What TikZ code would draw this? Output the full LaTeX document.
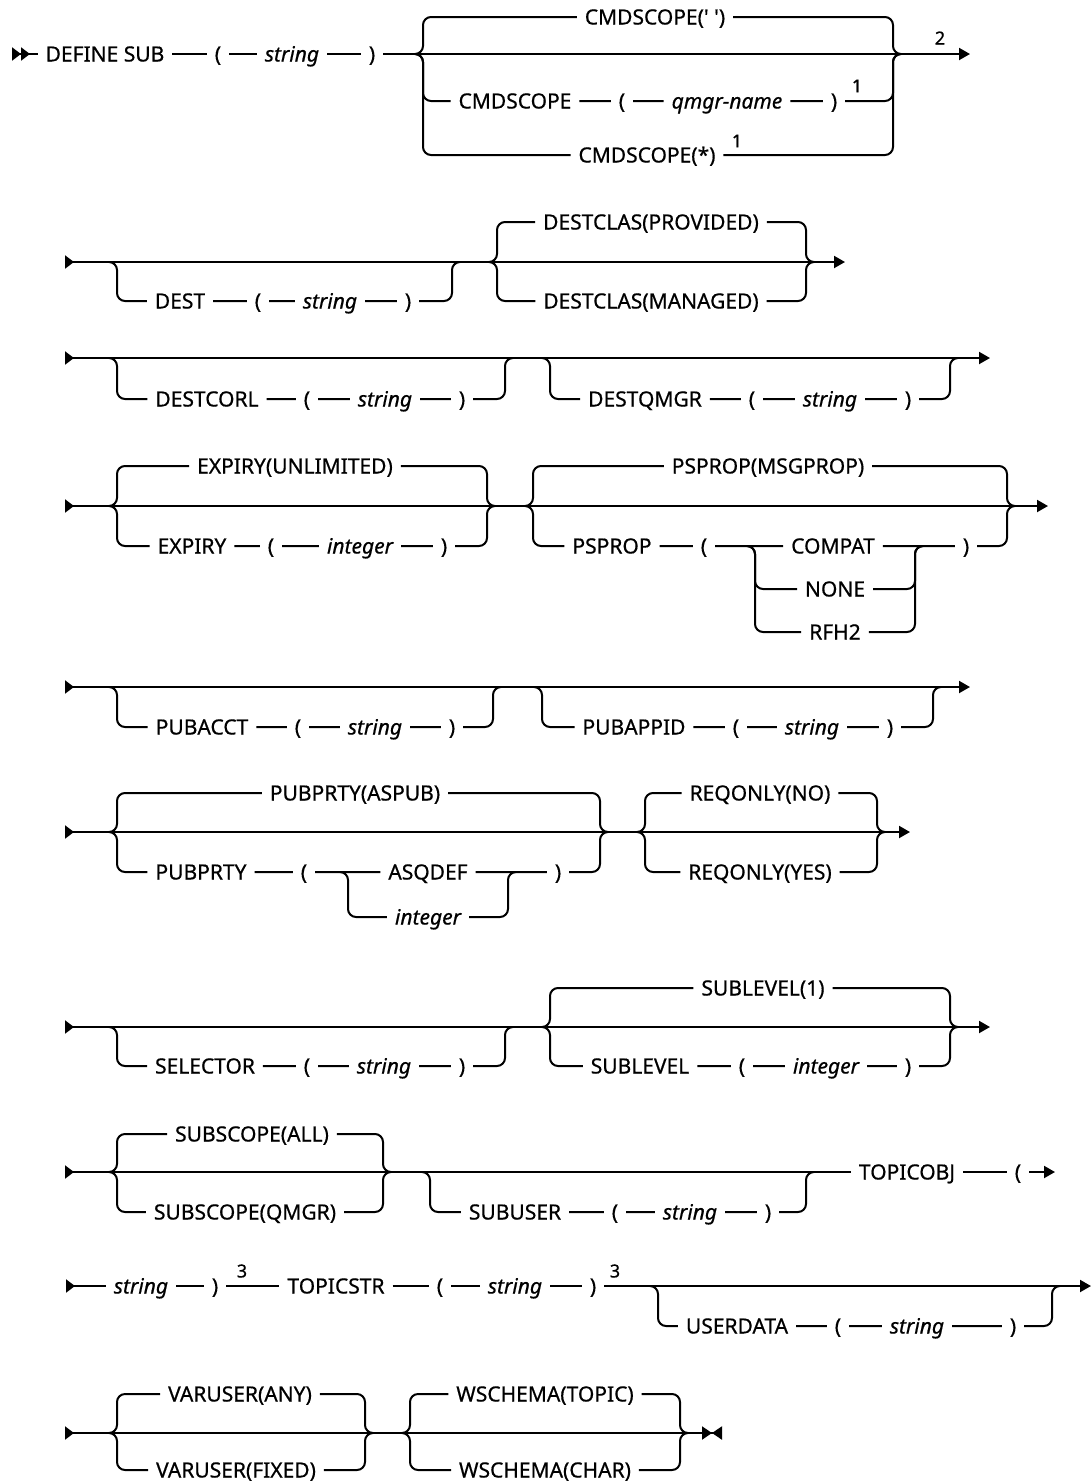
\documentclass[tikz,border=0pt]{standalone}
\usepackage{fontspec}
\setmainfont{Noto Sans}[UprightFeatures={FakeBold=0.6}, ItalicFeatures={FakeBold=0.6}]
\usetikzlibrary{arrows.meta}
\newcommand{\railfont}{\fontsize{21}{25}\selectfont}

\begin{document}
\begin{tikzpicture}[x=1pt, y=-1pt, line width=2pt, font=\railfont,
  tok/.style={inner sep=0pt, outer sep=8pt, text height=15pt, text depth=0pt, font=\railfont},
  var/.style={tok, font=\railfont\itshape},
  note/.style={inner sep=0pt, font=\fontsize{18}{20}\selectfont},
  altpath/.style={rounded corners=8pt},
  rowin/.style={arrows={Triangle[reversed,length=9pt,width=13pt]}-},
  rowout/.style={arrows=-{Triangle[length=11pt,width=12pt]}},
  rowline/.style={arrows={Triangle[reversed,length=9pt,width=13pt]}-{Triangle[length=11pt,width=12pt]}}]
\useasboundingbox (0,0) rectangle (1091,1484);
% ---- row 1: DEFINE SUB and CMDSCOPE
\coordinate (r1s) at (12,54);
\coordinate (r1e) at (970,54);
\node[tok] (defsub) at (105,54) {DEFINE SUB};
\node[tok] (lp1) at (218,54) {(};
\node[var] (str1) at (292,54) {string};
\node[tok] (rp1) at (372,54) {)};
\coordinate (cs) at (423,54);
\coordinate (ce) at (893,54);
\node[tok] (cmdq) at (655,17) {CMDSCOPE(\textquotesingle\ \textquotesingle)};
\node[tok] (cmdn) at (515,101) {CMDSCOPE};
\node[tok] (lp1b) at (622,101) {(};
\node[var] (qmgr) at (727,101) {qmgr-name};
\node[tok] (rp1b) at (834,101) {)};
\node[note] (n1a) at (857,86) {1};
\node[tok] (cmdall) at (647,155) {CMDSCOPE(*)};
\node[note] (n1b) at (737,141) {1};
\node[note] (n2) at (940,38) {2};
\draw[arrows={Triangle[reversed,length=9pt,width=13pt]Triangle[reversed,length=9pt,width=13pt]}-] (r1s) -- (defsub);
\draw (defsub) -- (lp1) -- (str1) -- (rp1);
\draw[rowout] (rp1) -- (r1e);
\draw[altpath] ([xshift=-8pt]cs) -| (cs |- cmdq) -- (cmdq) -- (ce |- cmdq) |- ([xshift=8pt]ce);
\draw[altpath] ([xshift=-8pt]cs) -| (cs |- cmdn) -- (cmdn) -- (lp1b) -- (qmgr) -- (rp1b) -- (ce |- rp1b) |- ([xshift=8pt]ce);
\draw[altpath] ([xshift=-8pt]cs) -| (cs |- cmdall) -- (cmdall) -- (ce |- cmdall) |- ([xshift=8pt]ce);
% ---- row 2: DEST, DESTCLAS
\coordinate (r2s) at (65,262);
\coordinate (r2e) at (845,262);
\draw[rowline] (r2s) -- (r2e);
\coordinate (ds) at (117,262);
\coordinate (de) at (452,262);
\node[tok] (dest) at (180,301) {DEST};
\node[tok] (lp2) at (258,301) {(};
\node[var] (str2) at (330,301) {string};
\node[tok] (rp2) at (408,301) {)};
\draw[altpath] ([xshift=-8pt]ds) -| (ds |- dest) -- (dest) -- (lp2) -- (str2) -- (rp2) -- (de |- rp2) |- ([xshift=8pt]de);
\coordinate (cls) at (497,262);
\coordinate (cle) at (806,262);
\node[tok] (dcprov) at (651,222) {DESTCLAS(PROVIDED)};
\node[tok] (dcman) at (651,301) {DESTCLAS(MANAGED)};
\draw[altpath] ([xshift=-8pt]cls) -| (cls |- dcprov) -- (dcprov) -- (cle |- dcprov) |- ([xshift=8pt]cle);
\draw[altpath] ([xshift=-8pt]cls) -| (cls |- dcman) -- (dcman) -- (cle |- dcman) |- ([xshift=8pt]cle);
% ---- row 3: DESTCORL, DESTQMGR
\coordinate (r3s) at (65,358);
\coordinate (r3e) at (990,358);
\draw[rowline] (r3s) -- (r3e);
\coordinate (dcs) at (117,358);
\coordinate (dce) at (505,358);
\node[tok] (dcorl) at (207,399) {DESTCORL};
\node[tok] (lp3) at (307,399) {(};
\node[var] (str3) at (385,399) {string};
\node[tok] (rp3) at (462,399) {)};
\draw[altpath] ([xshift=-8pt]dcs) -| (dcs |- dcorl) -- (dcorl) -- (lp3) -- (str3) -- (rp3) -- (dce |- rp3) |- ([xshift=8pt]dce);
\coordinate (dqs) at (550,358);
\coordinate (dqe) at (950,358);
\node[tok] (dqmgr) at (645,399) {DESTQMGR};
\node[tok] (lp3b) at (752,399) {(};
\node[var] (str3b) at (830,399) {string};
\node[tok] (rp3b) at (908,399) {)};
\draw[altpath] ([xshift=-8pt]dqs) -| (dqs |- dqmgr) -- (dqmgr) -- (lp3b) -- (str3b) -- (rp3b) -- (dqe |- rp3b) |- ([xshift=8pt]dqe);
% ---- row 4: EXPIRY, PSPROP
\coordinate (r4s) at (65,506);
\coordinate (r4e) at (1048,506);
\draw[rowline] (r4s) -- (r4e);
\coordinate (exs) at (117,506);
\coordinate (exe) at (487,506);
\node[tok] (expunl) at (295,466) {EXPIRY(UNLIMITED)};
\node[tok] (expiry) at (192,546) {EXPIRY};
\node[tok] (lp4) at (271,546) {(};
\node[var] (int4) at (360,546) {integer};
\node[tok] (rp4) at (444,546) {)};
\draw[altpath] ([xshift=-8pt]exs) -| (exs |- expunl) -- (expunl) -- (exe |- expunl) |- ([xshift=8pt]exe);
\draw[altpath] ([xshift=-8pt]exs) -| (exs |- expiry) -- (expiry) -- (lp4) -- (int4) -- (rp4) -- (exe |- rp4) |- ([xshift=8pt]exe);
\coordinate (pss) at (533,506);
\coordinate (pse) at (1007,506);
\node[tok] (psmsg) at (768,466) {PSPROP(MSGPROP)};
\node[tok] (psprop) at (612,546) {PSPROP};
\node[tok] (lp4b) at (704,546) {(};
\node[tok] (compat) at (833,546) {COMPAT};
\node[tok] (none) at (835,589) {NONE};
\node[tok] (rfh2) at (835,632) {RFH2};
\node[tok] (rp4b) at (966,546) {)};
\coordinate (ns) at (755,546);
\coordinate (ne) at (915,546);
\draw[altpath] ([xshift=-8pt]pss) -| (pss |- psmsg) -- (psmsg) -- (pse |- psmsg) |- ([xshift=8pt]pse);
\draw[altpath] ([xshift=-8pt]pss) -| (pss |- psprop) -- (psprop) -- (lp4b) -- (compat) -- (rp4b) -- (pse |- rp4b) |- ([xshift=8pt]pse);
\draw[altpath] ([xshift=-8pt]ns) -| (ns |- none) -- (none) -- (ne |- none) |- ([xshift=8pt]ne);
\draw[altpath] ([xshift=-8pt]ns) -| (ns |- rfh2) -- (rfh2) -- (ne |- rfh2) |- ([xshift=8pt]ne);
% ---- row 5: PUBACCT, PUBAPPID
\coordinate (r5s) at (65,687);
\coordinate (r5e) at (970,687);
\draw[rowline] (r5s) -- (r5e);
\coordinate (pas) at (117,687);
\coordinate (pae) at (493,687);
\node[tok] (pubacct) at (202,727) {PUBACCT};
\node[tok] (lp5) at (298,727) {(};
\node[var] (str5) at (375,727) {string};
\node[tok] (rp5) at (452,727) {)};
\draw[altpath] ([xshift=-8pt]pas) -| (pas |- pubacct) -- (pubacct) -- (lp5) -- (str5) -- (rp5) -- (pae |- rp5) |- ([xshift=8pt]pae);
\coordinate (pis) at (542,687);
\coordinate (pie) at (933,687);
\node[tok] (pubappid) at (634,727) {PUBAPPID};
\node[tok] (lp5b) at (736,727) {(};
\node[var] (str5b) at (812,727) {string};
\node[tok] (rp5b) at (890,727) {)};
\draw[altpath] ([xshift=-8pt]pis) -| (pis |- pubappid) -- (pubappid) -- (lp5b) -- (str5b) -- (rp5b) -- (pie |- rp5b) |- ([xshift=8pt]pie);
% ---- row 6: PUBPRTY, REQONLY
\coordinate (r6s) at (65,832);
\coordinate (r6e) at (910,832);
\draw[rowline] (r6s) -- (r6e);
\coordinate (pps) at (117,832);
\coordinate (ppe) at (600,832);
\node[tok] (ppasp) at (355,793) {PUBPRTY(ASPUB)};
\node[tok] (pubprty) at (201,872) {PUBPRTY};
\node[tok] (lp6) at (304,872) {(};
\node[tok] (asqdef) at (428,872) {ASQDEF};
\node[var] (int6) at (428,917) {integer};
\node[tok] (rp6) at (558,872) {)};
\coordinate (qs) at (348,872);
\coordinate (qe) at (508,872);
\draw[altpath] ([xshift=-8pt]pps) -| (pps |- ppasp) -- (ppasp) -- (ppe |- ppasp) |- ([xshift=8pt]ppe);
\draw[altpath] ([xshift=-8pt]pps) -| (pps |- pubprty) -- (pubprty) -- (lp6) -- (asqdef) -- (rp6) -- (ppe |- rp6) |- ([xshift=8pt]ppe);
\draw[altpath] ([xshift=-8pt]qs) -| (qs |- int6) -- (int6) -- (qe |- int6) |- ([xshift=8pt]qe);
\coordinate (rqs) at (645,832);
\coordinate (rqe) at (877,832);
\node[tok] (reqno) at (760,793) {REQONLY(NO)};
\node[tok] (reqyes) at (760,872) {REQONLY(YES)};
\draw[altpath] ([xshift=-8pt]rqs) -| (rqs |- reqno) -- (reqno) -- (rqe |- reqno) |- ([xshift=8pt]rqe);
\draw[altpath] ([xshift=-8pt]rqs) -| (rqs |- reqyes) -- (reqyes) -- (rqe |- reqyes) |- ([xshift=8pt]rqe);
% ---- row 7: SELECTOR, SUBLEVEL
\coordinate (r7s) at (65,1027);
\coordinate (r7e) at (990,1027);
\draw[rowline] (r7s) -- (r7e);
\coordinate (sls) at (117,1027);
\coordinate (sle) at (505,1027);
\node[tok] (selector) at (205,1066) {SELECTOR};
\node[tok] (lp7) at (307,1066) {(};
\node[var] (str7) at (384,1066) {string};
\node[tok] (rp7) at (462,1066) {)};
\draw[altpath] ([xshift=-8pt]sls) -| (sls |- selector) -- (selector) -- (lp7) -- (str7) -- (rp7) -- (sle |- rp7) |- ([xshift=8pt]sle);
\coordinate (svs) at (550,1027);
\coordinate (sve) at (950,1027);
\node[tok] (sub1) at (763,988) {SUBLEVEL(1)};
\node[tok] (sublevel) at (640,1066) {SUBLEVEL};
\node[tok] (lp7b) at (742,1066) {(};
\node[var] (int7) at (826,1066) {integer};
\node[tok] (rp7b) at (908,1066) {)};
\draw[altpath] ([xshift=-8pt]svs) -| (svs |- sub1) -- (sub1) -- (sve |- sub1) |- ([xshift=8pt]sve);
\draw[altpath] ([xshift=-8pt]svs) -| (svs |- sublevel) -- (sublevel) -- (lp7b) -- (int7) -- (rp7b) -- (sve |- rp7b) |- ([xshift=8pt]sve);
% ---- row 8: SUBSCOPE, SUBUSER, TOPICOBJ
\coordinate (r8s) at (65,1172);
\coordinate (r8e) at (1055,1172);
\node[tok] (topicobj) at (907,1172) {TOPICOBJ};
\node[tok] (lp8b) at (1018,1172) {(};
\draw[rowin] (r8s) -- (topicobj);
\draw (topicobj) -- (lp8b);
\draw[rowout] (lp8b) -- (r8e);
\coordinate (scs) at (117,1172);
\coordinate (sce) at (383,1172);
\node[tok] (scall) at (252,1134) {SUBSCOPE(ALL)};
\node[tok] (scq) at (245,1212) {SUBSCOPE(QMGR)};
\draw[altpath] ([xshift=-8pt]scs) -| (scs |- scall) -- (scall) -- (sce |- scall) |- ([xshift=8pt]sce);
\draw[altpath] ([xshift=-8pt]scs) -| (scs |- scq) -- (scq) -- (sce |- scq) |- ([xshift=8pt]sce);
\coordinate (sus) at (430,1172);
\coordinate (sue) at (806,1172);
\node[tok] (subuser) at (515,1212) {SUBUSER};
\node[tok] (lp8) at (615,1212) {(};
\node[var] (str8) at (690,1212) {string};
\node[tok] (rp8) at (768,1212) {)};
\draw[altpath] ([xshift=-8pt]sus) -| (sus |- subuser) -- (subuser) -- (lp8) -- (str8) -- (rp8) -- (sue |- rp8) |- ([xshift=8pt]sue);
% ---- row 9: string ), TOPICSTR, USERDATA
\coordinate (r9s) at (66,1286);
\coordinate (r9e) at (1091,1286);
\node[var] (str9) at (141,1286) {string};
\node[tok] (rp9) at (215,1286) {)};
\node[note] (n3a) at (242,1271) {3};
\node[tok] (topicstr) at (336,1286) {TOPICSTR};
\node[tok] (lp9) at (440,1286) {(};
\node[var] (str9b) at (515,1286) {string};
\node[tok] (rp9b) at (593,1286) {)};
\node[note] (n3b) at (615,1271) {3};
\draw[rowin] (r9s) -- (str9);
\draw (str9) -- (rp9) -- (topicstr) -- (lp9) -- (str9b) -- (rp9b);
\draw[rowout] (rp9b) -- (r9e);
\coordinate (uds) at (658,1286);
\coordinate (ude) at (1052,1286);
\node[tok] (userdata) at (737,1326) {USERDATA};
\node[tok] (lp9c) at (838,1326) {(};
\node[var] (str9c) at (917,1326) {string};
\node[tok] (rp9c) at (1013,1326) {)};
\draw[altpath] ([xshift=-8pt]uds) -| (uds |- userdata) -- (userdata) -- (lp9c) -- (str9c) -- (rp9c) -- (ude |- rp9c) |- ([xshift=8pt]ude);
% ---- row 10: VARUSER, WSCHEMA
\coordinate (r10s) at (65,1433);
\coordinate (r10e) at (722,1433);
\draw[arrows={Triangle[reversed,length=9pt,width=13pt]}-{Triangle[length=10pt,width=13pt]Triangle[reversed,length=10pt,width=13pt]}] (r10s) -- (r10e);
\coordinate (vus) at (117,1433);
\coordinate (vue) at (365,1433);
\node[tok] (varany) at (240,1394) {VARUSER(ANY)};
\node[tok] (varfix) at (236,1470) {VARUSER(FIXED)};
\draw[altpath] ([xshift=-8pt]vus) -| (vus |- varany) -- (varany) -- (vue |- varany) |- ([xshift=8pt]vue);
\draw[altpath] ([xshift=-8pt]vus) -| (vus |- varfix) -- (varfix) -- (vue |- varfix) |- ([xshift=8pt]vue);
\coordinate (wss) at (410,1433);
\coordinate (wse) at (680,1433);
\node[tok] (wstop) at (545,1394) {WSCHEMA(TOPIC)};
\node[tok] (wschar) at (545,1470) {WSCHEMA(CHAR)};
\draw[altpath] ([xshift=-8pt]wss) -| (wss |- wstop) -- (wstop) -- (wse |- wstop) |- ([xshift=8pt]wse);
\draw[altpath] ([xshift=-8pt]wss) -| (wss |- wschar) -- (wschar) -- (wse |- wschar) |- ([xshift=8pt]wse);
\end{tikzpicture}
\end{document}
